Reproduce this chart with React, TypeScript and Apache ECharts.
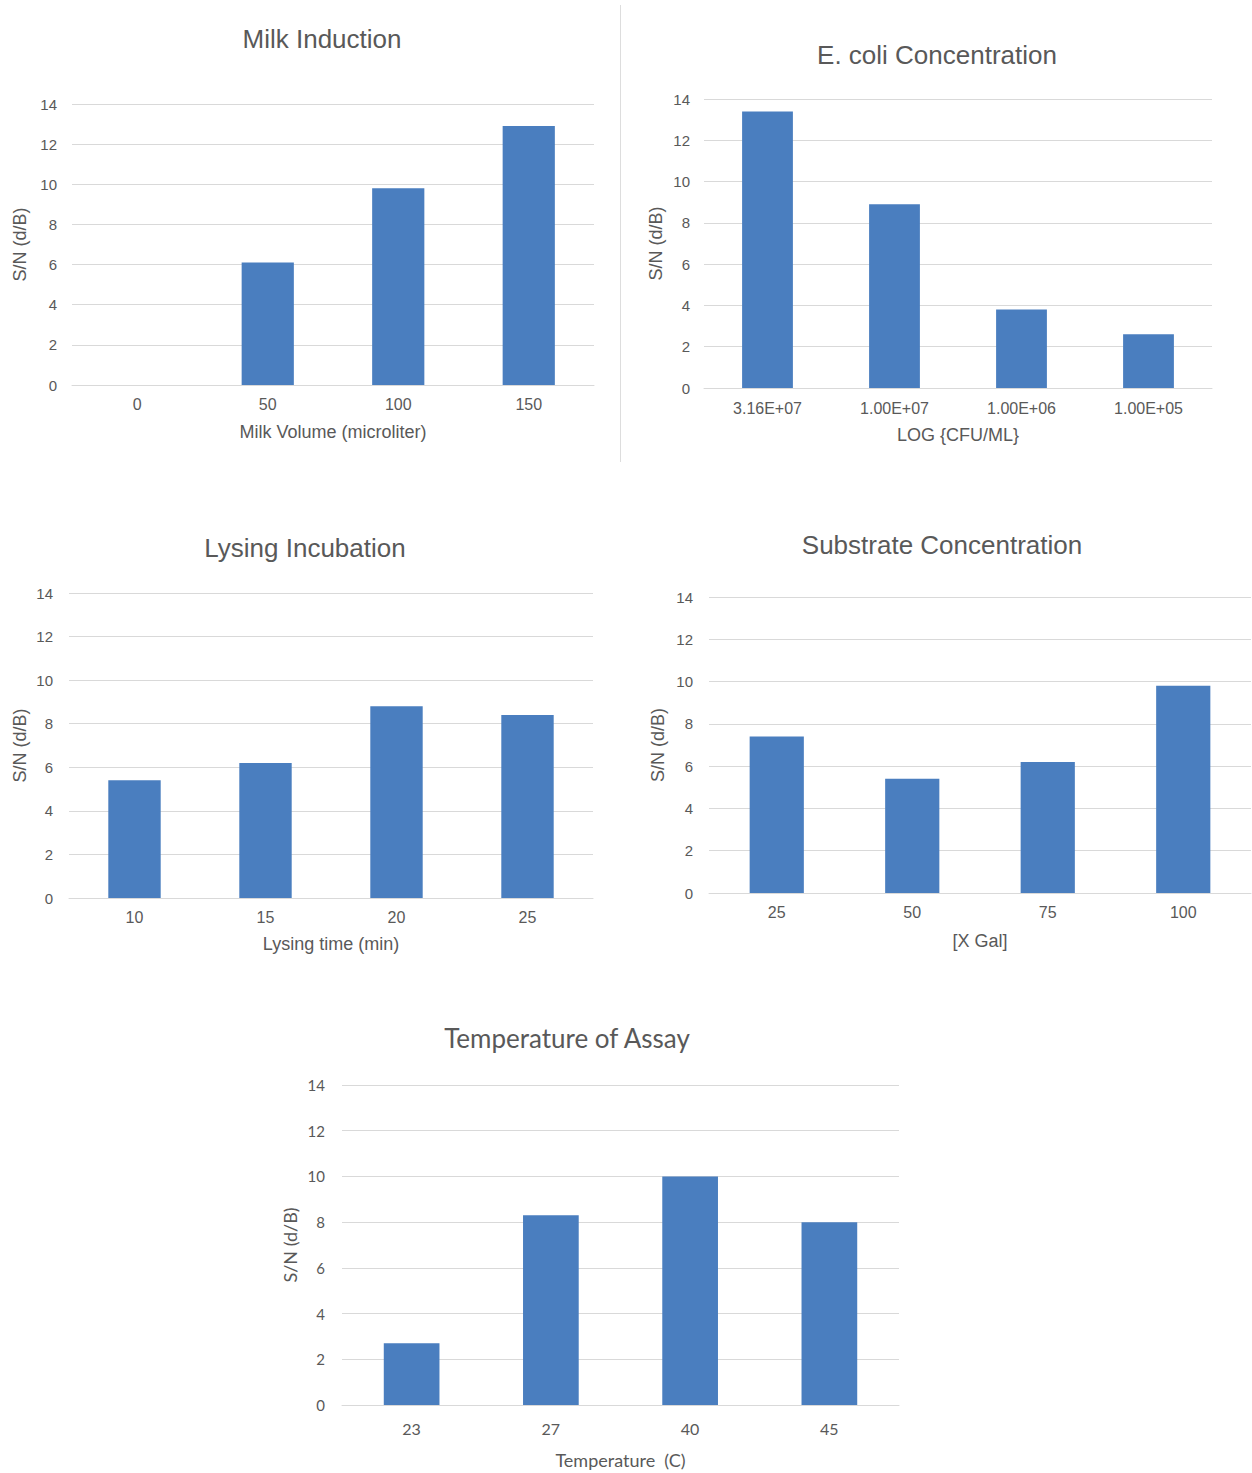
import React, { useEffect, useRef } from "react";
import * as echarts from "echarts";

const yLabel = "S/N (d/B)";
const yTicks = [0, 14, 2];

const milkCats = ["0", "50", "100", "150"];
const milkVals = [0, 6.1, 9.8, 12.9];

const ecoliCats = ["3.16E+07", "1.00E+07", "1.00E+06", "1.00E+05"];
const ecoliVals = [13.4, 8.9, 3.8, 2.6];

const lysCats = ["10", "15", "20", "25"];
const lysVals = [5.4, 6.2, 8.8, 8.4];

const subCats = ["25", "50", "75", "100"];
const subVals = [7.4, 5.4, 6.2, 9.8];

const tempCats = ["23", "27", "40", "45"];
const tempVals = [2.7, 8.3, 10.0, 8.0];

const titles = [
  "Milk Induction",
  "E. coli Concentration",
  "Lysing Incubation",
  "Substrate Concentration",
  "Temperature of Assay",
];
const xNames = [
  "Milk Volume (microliter)",
  "LOG {CFU/ML}",
  "Lysing time (min)",
  "[X Gal]",
  "Temperature  (C)",
];

const BAR = "#4a7ebf";
const TXT = "#595959";
const GRID = "#d9d9d9";
const ARIAL = "'Liberation Sans', Arial, sans-serif";
const CAL = "Lato, 'Open Sans', sans-serif";

const layouts = [
  { grid: { left: 72, top: 104, width: 522, height: 281 }, title: [322, 39], yGap: 43, xGap: 38, xMargin: 11, yMargin: 15, font: ARIAL },
  { grid: { left: 704, top: 99, width: 508, height: 289 }, title: [937, 55], yGap: 39, xGap: 38, xMargin: 12, yMargin: 14, font: ARIAL },
  { grid: { left: 69, top: 593, width: 524, height: 305 }, title: [305, 548], yGap: 40, xGap: 37, xMargin: 11, yMargin: 16, font: ARIAL },
  { grid: { left: 709, top: 597, width: 542, height: 296 }, title: [942, 545], yGap: 42, xGap: 39, xMargin: 11, yMargin: 16, font: ARIAL },
  { grid: { left: 342, top: 1085, width: 557, height: 320 }, title: [567, 1038], yGap: 43, xGap: 46, xMargin: 15, yMargin: 17, font: CAL },
];

const cats = [milkCats, ecoliCats, lysCats, subCats, tempCats];
const vals = [milkVals, ecoliVals, lysVals, subVals, tempVals];

export default function App() {
  const ref = useRef<HTMLDivElement>(null);
  useEffect(() => {
    if (!ref.current) return;
    const chart = echarts.init(ref.current, undefined, { renderer: "svg" });
    const fam = (i: number) => layouts[i].font;
    const option: any = {
      animation: false,
      backgroundColor: "#ffffff",
      grid: layouts.map((l) => ({ ...l.grid, containLabel: false })),
      xAxis: layouts.map((l, i) => ({
        type: "category",
        gridIndex: i,
        data: cats[i],
        name: xNames[i],
        nameLocation: "middle",
        nameGap: l.xGap,
        nameTextStyle: { color: TXT, fontSize: 18, fontFamily: fam(i) },
        axisLine: { show: true, lineStyle: { color: GRID, width: 1 } },
        axisTick: { show: false },
        axisLabel: { color: TXT, fontSize: 16, margin: l.xMargin, fontFamily: fam(i) },
        splitLine: { show: false },
      })),
      yAxis: layouts.map((l, i) => ({
        type: "value",
        gridIndex: i,
        min: yTicks[0],
        max: yTicks[1],
        interval: yTicks[2],
        name: yLabel,
        nameLocation: "middle",
        nameRotate: 90,
        nameGap: l.yGap,
        nameTextStyle: { color: TXT, fontSize: 18, fontFamily: fam(i) },
        axisLine: { show: false },
        axisTick: { show: false },
        axisLabel: { color: TXT, fontSize: 15, margin: l.yMargin, fontFamily: fam(i) },
        splitLine: { show: true, lineStyle: { color: GRID, width: 1 } },
      })),
      series: layouts.map((l, i) => ({
        type: "bar",
        xAxisIndex: i,
        yAxisIndex: i,
        data: vals[i],
        barWidth: "40%",
        itemStyle: { color: BAR },
      })),
      graphic: [
        {
          type: "line",
          shape: { x1: 620.5, y1: 5, x2: 620.5, y2: 462 },
          style: { stroke: "#dddddd", lineWidth: 1 },
        },
        ...layouts.map((l, i) => ({
          type: "text",
          x: l.title[0],
          y: l.title[1],
          style: {
            text: titles[i],
            fill: TXT,
            font: `26px ${fam(i)}`,
            align: "center",
            verticalAlign: "middle",
          },
        })),
      ],
    };
    chart.setOption(option);
    return () => chart.dispose();
  }, []);
  return (
    <div
      ref={ref}
      style={{ position: "absolute", left: 0, top: 0, width: 1252, height: 1473, background: "#fff" }}
    />
  );
}
